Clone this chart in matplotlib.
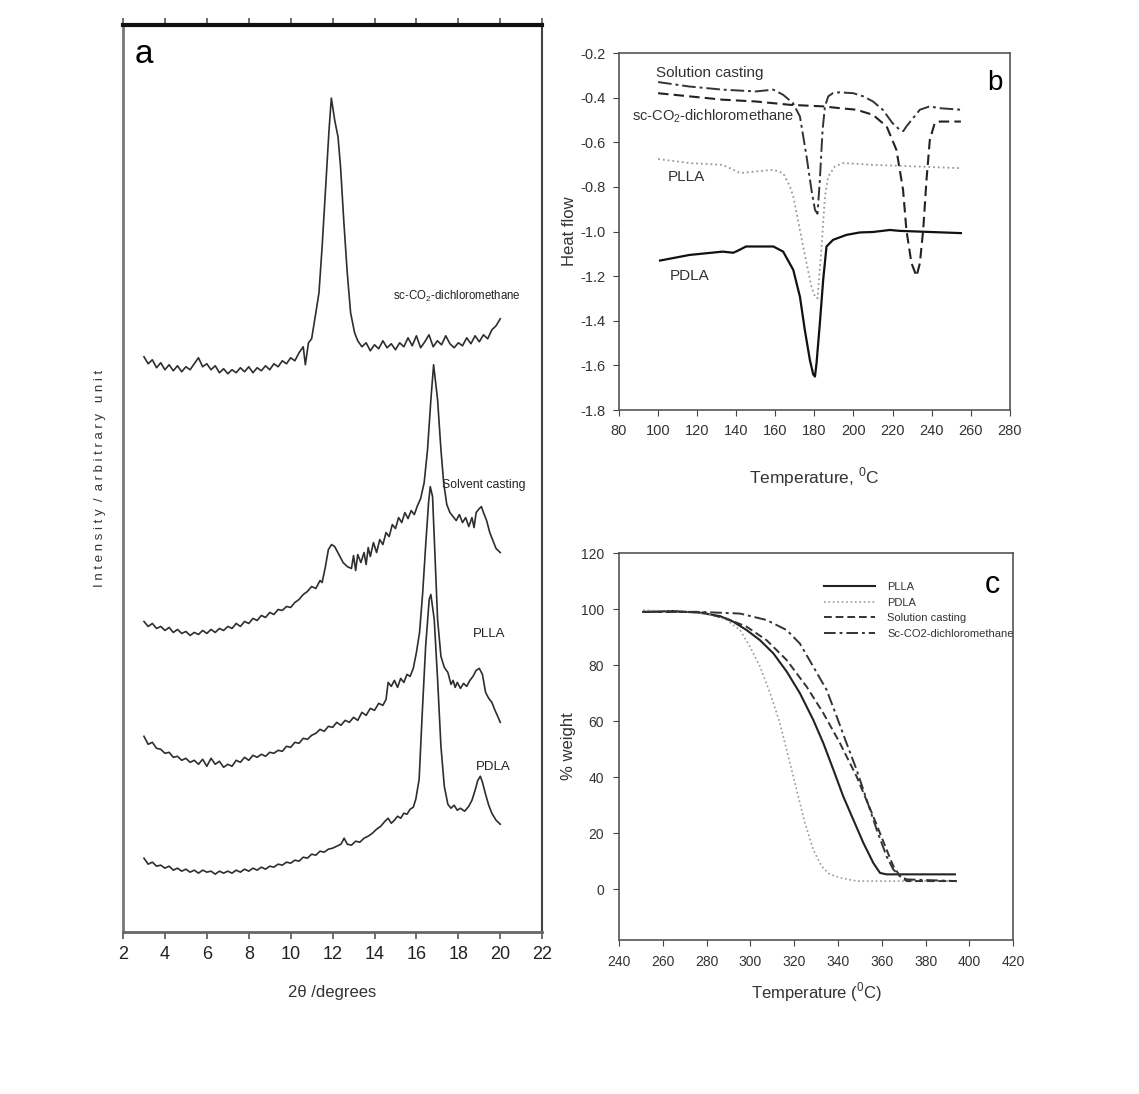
import matplotlib
matplotlib.use("Agg")
import matplotlib.pyplot as plt

plt.rcParams['font.family'] = ['Liberation Sans', 'DejaVu Sans']
plt.rcParams['mathtext.fontset'] = 'custom'
plt.rcParams['mathtext.rm'] = 'Liberation Sans'
plt.rcParams['axes.unicode_minus'] = False

# ---- panel a : XRD patterns (arbitrary units, stacked) ----
x_sc = [3.0, 3.2, 3.4, 3.6, 3.8, 4.0, 4.2, 4.4, 4.6, 4.8, 5.0, 5.2, 5.4, 5.6, 5.8, 6.0, 6.2, 6.4, 6.6, 6.8,
        7.0, 7.2, 7.4, 7.6, 7.8, 8.0, 8.2, 8.4, 8.6, 8.8, 9.0, 9.2, 9.4, 9.6, 9.8, 10.0, 10.2, 10.4, 10.6, 10.7,
        10.85, 11.0, 11.2, 11.35, 11.5, 11.67, 11.83, 11.94, 12.1, 12.26, 12.38, 12.54, 12.7, 12.86, 13.05, 13.2,
        13.4, 13.6, 13.8, 14.0, 14.2, 14.4, 14.6, 14.8, 15.0, 15.2, 15.4, 15.6, 15.8, 16.0, 16.2, 16.4, 16.6, 16.8,
        17.0, 17.2, 17.4, 17.6, 17.8, 18.0, 18.2, 18.4, 18.6, 18.8, 19.0, 19.2, 19.4, 19.6, 19.8, 20.0]
y_sc = [576, 569, 573, 565, 570, 563, 568, 562, 567, 561, 566, 563, 569, 575, 566, 569, 563, 567, 560, 564,
        559, 563, 560, 565, 561, 566, 560, 565, 562, 567, 563, 569, 566, 572, 569, 575, 572, 580, 586, 568,
        590, 594, 620, 640, 686, 746, 803, 835, 813, 796, 766, 710, 660, 620, 600, 592,
        586, 590, 582, 588, 584, 592, 585, 589, 583, 590, 586, 595, 587, 597, 585, 591, 598, 586,
        592, 588, 597, 589, 585, 590, 587, 595, 589, 597, 591, 598, 594, 603, 607, 614]

x_sol = [3.0, 3.2, 3.4, 3.6, 3.8, 4.0, 4.2, 4.4, 4.6, 4.8, 5.0, 5.2, 5.4, 5.6, 5.8, 6.0, 6.2, 6.4, 6.6, 6.8,
         7.0, 7.2, 7.4, 7.6, 7.8, 8.0, 8.2, 8.4, 8.6, 8.8, 9.0, 9.2, 9.4, 9.6, 9.8, 10.0, 10.2, 10.4, 10.6, 10.8,
         11.0, 11.2, 11.4, 11.5, 11.65, 11.8, 11.95, 12.1, 12.3, 12.5, 12.7, 12.9, 13.0, 13.1, 13.2, 13.35, 13.5,
         13.6, 13.7, 13.8, 13.95, 14.1, 14.25, 14.4, 14.55, 14.7, 14.85, 15.0, 15.15, 15.3, 15.45, 15.6, 15.75,
         15.9, 16.05, 16.2, 16.37, 16.53, 16.69, 16.82, 17.01, 17.17, 17.3, 17.45, 17.6, 17.75, 17.9, 18.05,
         18.2, 18.35, 18.5, 18.65, 18.75, 18.85, 19.0, 19.1, 19.2, 19.35, 19.5, 19.65, 19.8, 20.0]
y_sol = [311, 306, 309, 304, 306, 302, 305, 300, 303, 299, 301, 297, 300, 298, 302, 299, 303, 300, 304, 302,
         306, 304, 309, 306, 311, 309, 314, 312, 317, 315, 320, 318, 323, 322, 326, 325, 330, 333, 338, 341,
         346, 344, 352, 350, 365, 383, 388, 386, 378, 370, 366, 364, 377, 362, 378, 370, 380,
         368, 385, 376, 390, 380, 393, 388, 400, 396, 408, 404, 415, 410, 420, 414, 422,
         418, 427, 434, 450, 483, 533, 568, 533, 483, 450, 428, 420, 416, 412, 418,
         410, 415, 406, 415, 405, 420, 424, 426, 420, 412, 400, 392, 384, 380]

x_plla = [3.0, 3.2, 3.4, 3.6, 3.8, 4.0, 4.2, 4.4, 4.6, 4.8, 5.0, 5.2, 5.4, 5.6, 5.8, 6.0, 6.2, 6.4, 6.6, 6.8,
          7.0, 7.2, 7.4, 7.6, 7.8, 8.0, 8.2, 8.4, 8.6, 8.8, 9.0, 9.2, 9.4, 9.6, 9.8, 10.0, 10.2, 10.4, 10.6, 10.8,
          11.0, 11.2, 11.4, 11.6, 11.8, 12.0, 12.2, 12.4, 12.6, 12.8, 13.0, 13.2, 13.4, 13.6, 13.8, 14.0, 14.2,
          14.4, 14.55, 14.65, 14.8, 14.95, 15.1, 15.25, 15.4, 15.55, 15.7, 15.85, 16.0, 16.15, 16.3, 16.45, 16.58,
          16.66, 16.77, 16.88, 17.01, 17.17, 17.33, 17.5, 17.65, 17.75, 17.85, 17.95, 18.1, 18.25, 18.4, 18.55,
          18.7, 18.85, 19.0, 19.15, 19.3, 19.45, 19.6, 19.75, 19.9, 20.0]
y_plla = [196, 188, 190, 184, 183, 179, 180, 175, 176, 172, 174, 170, 172, 168, 173, 166, 174, 168, 171, 165,
          168, 166, 172, 170, 175, 172, 177, 175, 178, 176, 180, 179, 182, 181, 186, 185, 190, 189, 194, 193,
          197, 199, 203, 201, 206, 205, 210, 207, 212, 210, 215, 212, 220, 217, 224, 222, 229,
          227, 233, 250, 246, 252, 245, 254, 250, 258, 256, 264, 280, 300, 340, 390, 430,
          446, 436, 380, 313, 276, 265, 260, 248, 252, 245, 250, 244, 249, 246, 252,
          256, 262, 264, 258, 240, 234, 230, 222, 215, 210]

x_pdla = [3.0, 3.2, 3.4, 3.6, 3.8, 4.0, 4.2, 4.4, 4.6, 4.8, 5.0, 5.2, 5.4, 5.6, 5.8, 6.0, 6.2, 6.4, 6.6, 6.8,
          7.0, 7.2, 7.4, 7.6, 7.8, 8.0, 8.2, 8.4, 8.6, 8.8, 9.0, 9.2, 9.4, 9.6, 9.8, 10.0, 10.2, 10.4, 10.6, 10.8,
          11.0, 11.2, 11.4, 11.6, 11.8, 12.0, 12.2, 12.4, 12.55, 12.7, 12.9, 13.1, 13.3, 13.5, 13.7, 13.9, 14.1,
          14.3, 14.5, 14.65, 14.8, 14.95, 15.1, 15.25, 15.4, 15.55, 15.7, 15.85, 15.97, 16.13, 16.28, 16.44,
          16.61, 16.69, 16.85, 17.01, 17.17, 17.33, 17.5, 17.65, 17.8, 17.95, 18.1, 18.3, 18.5, 18.65, 18.8,
          18.93, 19.05, 19.15, 19.3, 19.45, 19.6, 19.8, 20.0]
y_pdla = [74, 68, 70, 66, 67, 64, 66, 62, 64, 61, 63, 60, 62, 59, 62, 60, 61, 58, 61, 59,
          61, 59, 62, 60, 63, 61, 64, 62, 65, 63, 66, 65, 68, 67, 70, 69, 72, 71, 75, 74,
          78, 77, 81, 80, 83, 84, 86, 88, 94, 88, 87, 91, 90, 94, 96, 99, 103,
          106, 111, 114, 109, 112, 116, 114, 119, 118, 123, 125, 133, 153, 220, 286,
          333, 338, 313, 253, 186, 146, 128, 124, 127, 122, 124, 121, 126, 132, 142,
          152, 156, 150, 138, 127, 119, 112, 108]

# ---- panel b : DSC ----
t_sol = [100, 116, 133, 150, 159, 164, 169, 172.6, 176, 178.5, 180.3, 181.6, 182.8, 184.2, 185.4, 187.1,
         189.6, 193, 200, 205, 210, 215, 220, 223.7, 225.5, 227.1, 230.5, 234, 239, 244, 255]
h_sol = [-0.33, -0.35, -0.364, -0.372, -0.364, -0.387, -0.424, -0.484, -0.664, -0.813, -0.903, -0.92, -0.768,
         -0.544, -0.44, -0.394, -0.379, -0.376, -0.38, -0.394, -0.417, -0.454, -0.514, -0.544, -0.55, -0.529,
         -0.492, -0.454, -0.439, -0.447, -0.454]
t_sc = [100, 116, 133, 150, 167.5, 184.5, 193, 201.6, 210, 217, 222, 225.4, 227.1, 229.7, 232.3, 234, 235.7,
        237.4, 239.1, 241.6, 244.2, 255]
h_sc = [-0.38, -0.394, -0.409, -0.417, -0.432, -0.439, -0.447, -0.454, -0.477, -0.529, -0.634, -0.813, -0.993,
        -1.142, -1.2, -1.142, -0.993, -0.768, -0.589, -0.514, -0.507, -0.507]
t_plla = [100, 116, 133, 138.5, 142, 150, 159, 164, 167.5, 169.2, 170.9, 172.6, 174.3, 176, 178.5, 180.3,
          181.6, 183.7, 185.4, 187.1, 190.5, 194.7, 210, 255]
h_plla = [-0.675, -0.693, -0.701, -0.723, -0.738, -0.731, -0.723, -0.738, -0.798, -0.843, -0.918, -0.993,
          -1.07, -1.142, -1.247, -1.292, -1.3, -1.067, -0.843, -0.753, -0.708, -0.693, -0.701, -0.716]
t_pdla = [101, 116, 133, 138.5, 141, 145, 159, 164, 169.2, 172.6, 175.1, 177.7, 179.4, 180.3, 181.1, 182.8,
          184.5, 186.2, 189.6, 196.4, 203.3, 210, 218.6, 223.7, 255]
h_pdla = [-1.13, -1.105, -1.09, -1.095, -1.085, -1.067, -1.067, -1.09, -1.172, -1.292, -1.441, -1.576, -1.64,
          -1.65, -1.59, -1.411, -1.217, -1.067, -1.037, -1.015, -1.004, -1.002, -0.993, -0.997, -1.007]

# ---- panel c : TGA ----
tg_plla = [251, 264.8, 277, 286.1, 292.2, 298.3, 304.4, 310.5, 316.6, 322.6, 328.7, 333.3, 337.9, 342.4,
           347, 351.6, 356.1, 359.2, 362.2, 393.4]
w_plla = [99.0, 99.3, 98.7, 97.5, 95.5, 92.5, 88.9, 84.2, 77.7, 70.0, 60.5, 52.2, 42.7, 33.2, 24.9, 16.6,
          9.5, 5.9, 5.4, 5.4]
tg_pdla = [251, 272.4, 283.1, 289.2, 295.3, 299.8, 304.4, 309, 313.5, 317.3, 321.1, 324.9, 328.7, 332.5,
           336.3, 340.9, 348.5, 356.1, 394.2]
w_pdla = [99.6, 99.0, 97.8, 96.1, 92.5, 86.6, 79.5, 70.0, 59.3, 47.4, 35.6, 23.7, 14.2, 8.3, 5.4, 4.2,
          3.0, 3.0, 3.0]
tg_sol = [251, 277, 289.2, 298.3, 307.4, 316.6, 325.7, 333.3, 340.9, 348.5, 356.1, 362.2, 365.3, 368.3,
          371.4, 394.2]
w_sol = [99.0, 99.0, 96.6, 93.7, 88.9, 81.8, 72.3, 62.9, 52.2, 40.3, 26.1, 14.2, 8.3, 4.8, 3.0, 3.0]
tg_sc = [251, 277, 295.3, 307.4, 316.6, 322.6, 328.7, 334.8, 339.4, 343.9, 348.5, 353.1, 357.7, 362.2,
         365.3, 368.3, 371.4, 394.2]
w_sc = [99.0, 99.0, 98.4, 96.1, 92.5, 87.7, 79.5, 71.2, 61.7, 52.2, 42.7, 32.0, 21.3, 11.8, 7.1, 4.8, 3.6, 3.0]

fig = plt.figure(figsize=(11.39, 10.94), dpi=100)

# panel a
axa = fig.add_axes([0.108, 0.148, 0.368, 0.829])
lc = '#2e2e2e'
for xs, ys in [(x_sc, y_sc), (x_sol, y_sol), (x_plla, y_plla), (x_pdla, y_pdla)]:
    axa.plot(xs, ys, color=lc, lw=1.2)
axa.set_xlim(2, 22)
axa.set_ylim(0, 908)
axa.set_xticks(range(2, 23, 2))
axa.set_yticks([])
axa.tick_params(axis='x', direction='out', length=5, width=1.2, labelsize=13, top=True, colors='#555555',
                labelcolor='#222222', pad=5)
axa.spines['top'].set_linewidth(3)
axa.spines['top'].set_color('#111111')
axa.spines['left'].set_color('#777777')
axa.spines['left'].set_linewidth(2)
axa.spines['bottom'].set_color('#666666')
axa.spines['bottom'].set_linewidth(2)
axa.spines['right'].set_color('#444444')
axa.spines['right'].set_linewidth(1.5)
axa.set_xlabel('2θ /degrees', fontsize=12, labelpad=16, color='#333333')
axa.set_ylabel('I n t e n s i t y  /  a r b i t r a r y   u n i t', fontsize=9.5, labelpad=12,
               color='#333333')
axa.text(0.028, 0.958, 'a', transform=axa.transAxes, fontsize=24, va='baseline', ha='left')
axa.text(14.9, 636, 'sc-CO$_\\mathregular{2}$-dichloromethane', fontsize=8.3, ha='left', va='center',
         color='#222222')
axa.text(17.2, 448, 'Solvent casting', fontsize=8.8, ha='left', va='center', color='#222222')
axa.text(18.7, 298, 'PLLA', fontsize=9.5, ha='left', va='center', color='#222222')
axa.text(18.85, 165, 'PDLA', fontsize=9.5, ha='left', va='center', color='#222222')

# panel b
axb = fig.add_axes([0.5435, 0.6252, 0.343, 0.3263])
axb.plot(t_sol, h_sol, color='#333333', lw=1.4, dashes=[7, 2, 1.5, 2])
axb.plot(t_sc, h_sc, color='#222222', lw=1.5, dashes=[5, 2.5])
axb.plot(t_plla, h_plla, color='#999999', lw=1.3, ls=':')
axb.plot(t_pdla, h_pdla, color='#111111', lw=1.6)
axb.set_xlim(80, 280)
axb.set_ylim(-1.8, -0.2)
axb.set_xticks(range(80, 281, 20))
axb.set_yticks([-1.8, -1.6, -1.4, -1.2, -1.0, -0.8, -0.6, -0.4, -0.2])
axb.tick_params(direction='out', length=4, labelsize=10.5, colors='#444444', labelcolor='#333333', pad=6)
for s in axb.spines.values():
    s.set_color('#555555')
    s.set_linewidth(1.2)
axb.set_xlabel('Temperature, $^\\mathregular{0}$C', fontsize=12.5, labelpad=20, color='#333333')
axb.set_ylabel('Heat flow', fontsize=12, labelpad=2, color='#333333')
axb.text(99, -0.29, 'Solution casting', fontsize=11, ha='left', va='center', color='#333333')
axb.text(86.5, -0.485, 'sc-CO$_\\mathregular{2}$-dichloromethane', fontsize=10.5, ha='left', va='center',
         color='#333333')
axb.text(105, -0.755, 'PLLA', fontsize=11, ha='left', va='center', color='#333333')
axb.text(106, -1.2, 'PDLA', fontsize=11, ha='left', va='center', color='#333333')
axb.text(0.962, 0.896, 'b', transform=axb.transAxes, fontsize=20, va='baseline', ha='center')

# panel c
axc = fig.add_axes([0.5435, 0.1408, 0.346, 0.3537])
axc.plot(tg_plla, w_plla, color='#222222', lw=1.5, label='PLLA')
axc.plot(tg_pdla, w_pdla, color='#999999', lw=1.2, ls=':', label='PDLA')
axc.plot(tg_sol, w_sol, color='#333333', lw=1.4, dashes=[4, 2], label='Solution casting')
axc.plot(tg_sc, w_sc, color='#333333', lw=1.4, dashes=[6, 2, 1.5, 2], label='Sc-CO2-dichloromethane')
axc.set_xlim(240, 420)
axc.set_ylim(-18, 120)
axc.set_xticks(range(240, 421, 20))
axc.set_yticks(range(0, 121, 20))
axc.tick_params(direction='out', length=4, labelsize=10, colors='#444444', labelcolor='#333333', pad=7)
for s in axc.spines.values():
    s.set_color('#555555')
    s.set_linewidth(1.2)
axc.set_xlabel('Temperature ($^\\mathregular{0}$C)', fontsize=12, labelpad=8, color='#333333')
axc.set_ylabel('% weight', fontsize=12, labelpad=3, color='#333333')
leg = axc.legend(loc='upper left', bbox_to_anchor=(0.5, 0.945), frameon=False, fontsize=8,
                 handlelength=4.6, labelspacing=0.5, handletextpad=1.1, borderpad=0.2)
for t in leg.get_texts():
    t.set_color('#333333')
axc.text(0.947, 0.897, 'c', transform=axc.transAxes, fontsize=22, va='baseline', ha='center')

fig.savefig('out.png', dpi=100)
